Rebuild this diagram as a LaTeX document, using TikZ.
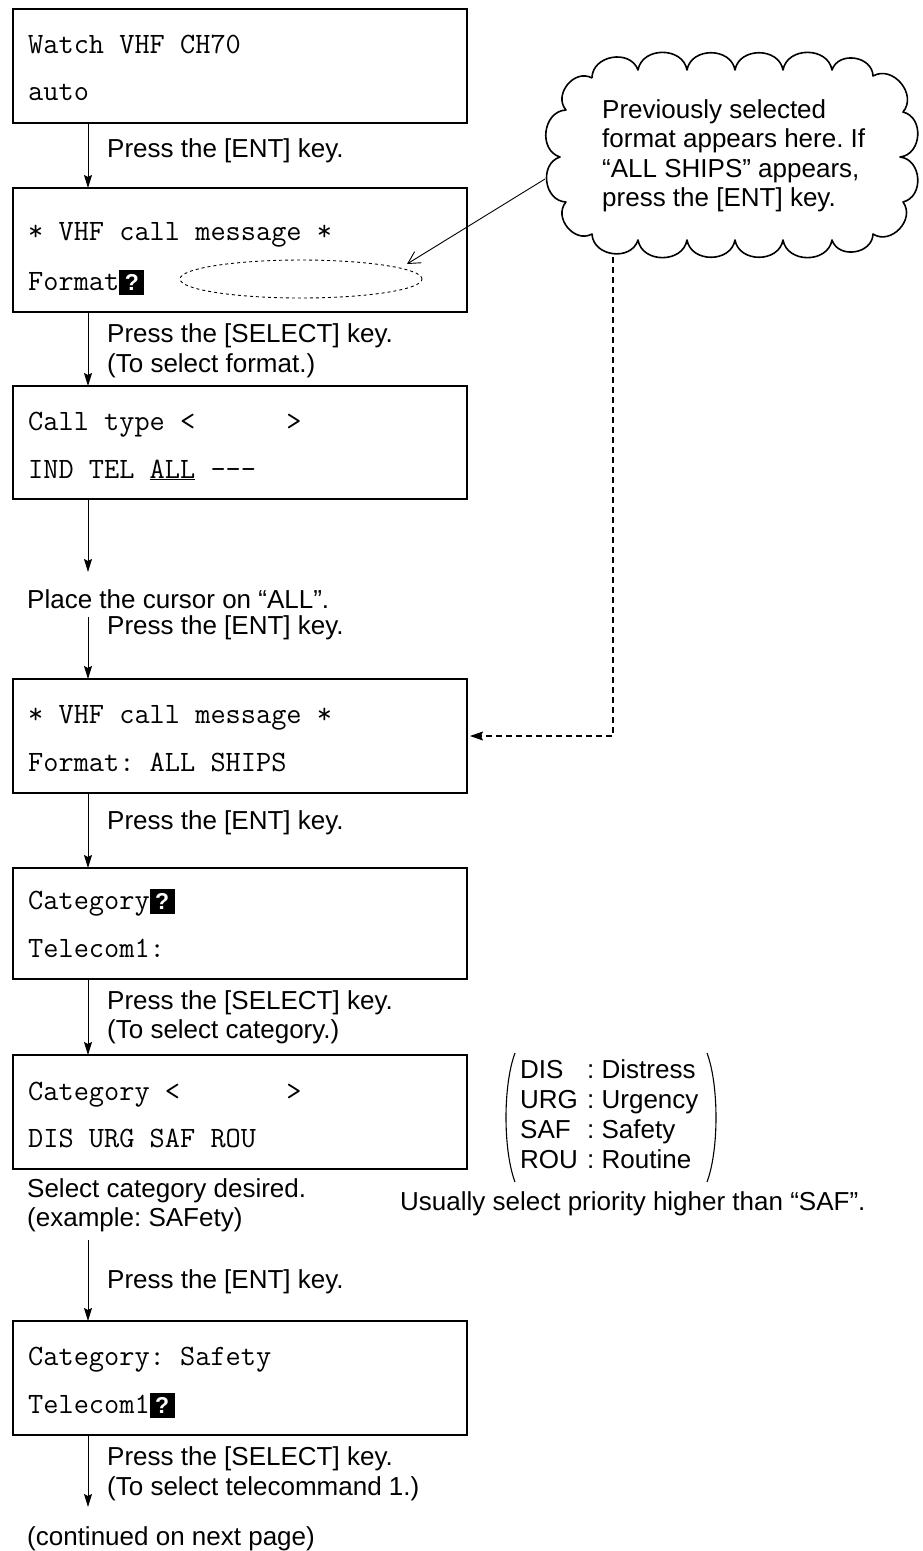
\documentclass[tikz,border=0pt]{standalone}
\usepackage{fontspec}
\setmainfont{Liberation Sans}
\usetikzlibrary{arrows.meta,calc,shapes.geometric}
\newcommand{\qmk}{{\setlength{\fboxsep}{0pt}\colorbox{black}{\makebox[25pt]{\rule[-5pt]{0pt}{25pt}\textcolor{white}{\rmfamily\bfseries\fontsize{23}{23}\selectfont ?}}}}}
\begin{document}
\frenchspacing
\begin{tikzpicture}[x=1pt,y=-1pt,
 scr/.style={draw,line width=1.8pt,minimum width=454pt,anchor=north west,inner sep=0pt,outer sep=0pt},
 mono/.style={anchor=base west,inner sep=0pt,font=\fontsize{29.5}{30}\ttfamily\frenchspacing},
 lbl/.style={anchor=base west,inner sep=0pt,font=\fontsize{26}{30}\selectfont\frenchspacing},
 flow/.style={line width=1pt,-{Stealth[length=13pt,width=8pt,inset=2pt]}},
 cloudline/.style={line width=1.6pt},
]
\useasboundingbox (0,0) rectangle (923,1551);
\coordinate (ax) at (88,0);

% box 1
\node[scr,minimum height=114pt] (b1) at (13,9) {};
\node[mono] (t1a) at (28,53) {Watch VHF CH70};
\node[mono] (t1b) at (28,100) {auto};
\node[lbl] (l1) at (107,157) {Press the [ENT] key.};

% box 2
\node[scr,minimum height=124pt] (b2) at (13,188) {};
\node[mono] (t2a) at (28,240) {* VHF call message *};
\node[mono] (t2b) at (28,290) {Format\qmk};
\node[draw,dashed,ellipse,line width=0.9pt,minimum width=242pt,minimum height=38pt,inner sep=0pt] (ell) at (301,279) {};
\node[lbl] (l2a) at (107,342) {Press the [SELECT] key.};
\node[lbl] (l2b) at (107,372) {(To select format.)};

% box 3
\node[scr,minimum height=113pt] (b3) at (13,386) {};
\node[mono] (t3a) at (28,430) {Call type <~~~~~~>};
\node[mono] (t3b) at (28,478) {IND TEL \underline{ALL} -{}-{}-};
\coordinate (p1) at (88,572);
\node[lbl] (pl) at (27,608) {Place the cursor on “ALL”.};
\coordinate (p2) at (88,617);
\node[lbl] (l3) at (107,634) {Press the [ENT] key.};

% box 4
\node[scr,minimum height=114pt] (b4) at (13,679) {};
\node[mono] (t4a) at (28,723) {* VHF call message *};
\node[mono] (t4b) at (28,771) {Format: ALL SHIPS};
\node[lbl] (l4) at (107,829) {Press the [ENT] key.};

% box 5
\node[scr,minimum height=111pt] (b5) at (13,868) {};
\node[mono] (t5a) at (28,909) {Category\qmk};
\node[mono] (t5b) at (28,957) {Telecom1:};
\node[lbl] (l5a) at (107,1009) {Press the [SELECT] key.};
\node[lbl] (l5b) at (107,1038) {(To select category.)};

% box 6
\node[scr,minimum height=114pt] (b6) at (13,1055) {};
\node[mono] (t6a) at (28,1100) {Category <~~~~~~~>};
\node[mono] (t6b) at (28,1147) {DIS URG SAF ROU};

% legend in parentheses
\draw[line width=1.1pt] (515,1053) .. controls (503,1085) and (503,1150) .. (515,1182);
\draw[line width=1.1pt] (707,1053) .. controls (719,1085) and (719,1150) .. (707,1182);
\node[lbl] (k1) at (520,1078) {DIS};
\node[lbl] (k2) at (520,1108) {URG};
\node[lbl] (k3) at (520,1138) {SAF};
\node[lbl] (k4) at (520,1168) {ROU};
\node[lbl] (d1) at (587,1078) {: Distress};
\node[lbl] (d2) at (587,1108) {: Urgency};
\node[lbl] (d3) at (587,1138) {: Safety};
\node[lbl] (d4) at (587,1168) {: Routine};

\node[lbl] (s1) at (27,1197) {Select category desired.};
\node[lbl] (s2) at (27,1226) {(example: SAFety)};
\node[lbl] (us) at (400,1210) {Usually select priority higher than “SAF”.};
\coordinate (p3) at (88,1240);
\node[lbl] (l6) at (107,1288) {Press the [ENT] key.};

% box 7
\node[scr,minimum height=114pt] (b7) at (13,1321) {};
\node[mono] (t7a) at (28,1365) {Category: Safety};
\node[mono] (t7b) at (28,1413) {Telecom1\qmk};
\node[lbl] (l7a) at (107,1465) {Press the [SELECT] key.};
\node[lbl] (l7b) at (107,1495) {(To select telecommand 1.)};
\coordinate (p4) at (88,1507);
\node[lbl] (ct) at (27,1545) {(continued on next page)};

% cloud
\draw[cloudline,line join=round] (592,78)
  to[bend left=80,looseness=1.25] (638,70) to[bend left=80,looseness=1.25] (687,70)
  to[bend left=80,looseness=1.25] (735,70) to[bend left=80,looseness=1.25] (783,70)
  to[bend left=80,looseness=1.25] (832,70) to[bend left=80,looseness=1.25] (873,76)
  to[bend left=80,looseness=1.25] (903,112) to[bend left=80,looseness=1.25] (900,157)
  to[bend left=80,looseness=1.25] (903,202) to[bend left=80,looseness=1.25] (873,234)
  to[bend left=80,looseness=1.25] (832,240) to[bend left=80,looseness=1.25] (783,240)
  to[bend left=80,looseness=1.25] (735,240) to[bend left=80,looseness=1.25] (687,240)
  to[bend left=80,looseness=1.25] (638,240) to[bend left=80,looseness=1.25] (592,234)
  to[bend left=80,looseness=1.25] (566,202) to[bend left=80,looseness=1.25] (560,157)
  to[bend left=80,looseness=1.25] (566,110) to[bend left=80,looseness=1.25] (592,78);
\node[lbl] (c1) at (602,118) {Previously selected};
\node[lbl] (c2) at (602,147) {format appears here. If};
\node[lbl] (c3) at (602,177) {“ALL SHIPS” appears,};
\node[lbl] (c4) at (602,206) {press the [ENT] key.};
\coordinate (cs) at (545,179);
\coordinate (ae) at (407,264);
\coordinate (cb) at (613,257);

% connectors
\draw[flow] (b1.south -| ax) -- (b2.north -| ax);
\draw[flow] (b2.south -| ax) -- (b3.north -| ax);
\draw[flow] (b3.south -| ax) -- (p1);
\draw[flow] (p2) -- (b4.north -| ax);
\draw[flow] (b4.south -| ax) -- (b5.north -| ax);
\draw[flow] (b5.south -| ax) -- (b6.north -| ax);
\draw[flow] (p3) -- (b7.north -| ax);
\draw[flow] (b7.south -| ax) -- (p4);
\draw[line width=0.9pt,-{Straight Barb[length=12pt,width=13pt]}] (cs) -- (ae);
\draw[line width=1.1pt,dash pattern=on 6pt off 4pt,-{Stealth[length=13pt,width=9pt,inset=2pt]}] (cb) |- ([xshift=3pt]b4.east);
\end{tikzpicture}
\end{document}
